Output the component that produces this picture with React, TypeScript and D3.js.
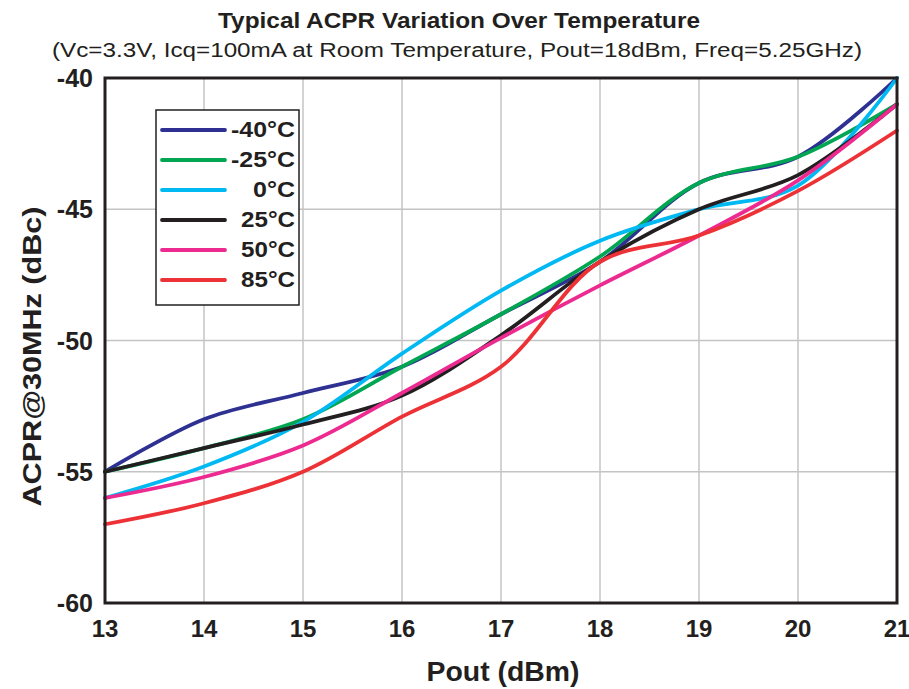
import React from "react";
import * as d3 from "d3";

const pout = [13, 14, 15, 16, 17, 18, 19, 20, 21];
const seriesNames = ["-40°C", "-25°C", "0°C", "25°C", "50°C", "85°C"];
const seriesColors = ["#2e3192", "#00a651", "#00b9f2", "#231f20", "#ec2a90", "#ed3237"];
const m40 = [-55, -53, -52, -51, -49, -47, -44, -43, -40];
const m25 = [-55, -54.1, -53, -51, -49, -46.8, -44, -43, -41];
const t0 = [-56, -54.8, -53.1, -50.5, -48.1, -46.2, -45, -44.1, -40];
const t25 = [-55, -54.1, -53.2, -52.1, -49.8, -47, -45, -43.7, -41];
const t50 = [-56, -55.2, -54, -52, -49.9, -47.9, -46, -43.9, -41];
const t85 = [-57, -56.2, -55, -52.9, -51, -47, -46, -44.3, -42];
const allSeries = [m40, m25, t0, t25, t50, t85];
const yTicks = [-40, -45, -50, -55, -60];

const W = 909;
const H = 689;
const margin = { top: 78, right: 12, bottom: 86, left: 105 };
const font = "'Liberation Sans', Arial, sans-serif";

export default function App() {
  const x = d3.scaleLinear()
    .domain([13, 21])
    .range([margin.left, W - margin.right]);
  const y = d3.scaleLinear()
    .domain([-60, -40])
    .range([H - margin.bottom, margin.top]);

  const line = d3.line<number>()
    .x((_, i) => x(pout[i]))
    .y(d => y(d))
    .curve(d3.curveCatmullRom.alpha(0.5));

  const legendX = 156;
  const legendY = 110;
  // label widths
  const legendWidths = [64, 64, 42, 54, 54, 54];

  return (
    <svg width={W} height={H} style={{ position: "absolute", left: 0, top: 0, background: "#fff" }}
      fontFamily={font}>
      <text x={459} y={28} textAnchor="middle" fontSize={22} fontWeight="bold" fill="#231f20"
        textLength={482} lengthAdjust="spacingAndGlyphs">
        Typical ACPR Variation Over Temperature
      </text>
      <text x={457} y={57} textAnchor="middle" fontSize={20} fill="#231f20"
        textLength={810} lengthAdjust="spacingAndGlyphs">
        (Vc=3.3V, Icq=100mA at Room Temperature, Pout=18dBm, Freq=5.25GHz)
      </text>

      {pout.map(v => (
        <line key={"gx" + v} x1={x(v)} x2={x(v)} y1={y(-40)} y2={y(-60)} stroke="#c4c4c4" strokeWidth={1.5} />
      ))}
      {yTicks.map(v => (
        <line key={"gy" + v} x1={x(13)} x2={x(21)} y1={y(v)} y2={y(v)} stroke="#c4c4c4" strokeWidth={1.5} />
      ))}

      {allSeries.map((s, i) => (
        <path key={"s" + i} d={line(s) || ""} fill="none" stroke={seriesColors[i]} strokeWidth={3.8}
          strokeLinecap="round" strokeLinejoin="round" />
      ))}

      <rect x={x(13)} y={y(-40)} width={x(21) - x(13)} height={y(-60) - y(-40)} fill="none"
        stroke="#231f20" strokeWidth={3} />

      {yTicks.map(v => (
        <text key={"ty" + v} x={x(13) - 12} y={y(v) + 9} textAnchor="end" fontSize={25} fontWeight="bold" fill="#231f20">
          {v}
        </text>
      ))}
      {pout.map(v => (
        <text key={"tx" + v} x={x(v)} y={y(-60) + 34} textAnchor="middle" fontSize={24} fontWeight="bold" fill="#231f20">
          {v}
        </text>
      ))}

      <text x={503} y={681} textAnchor="middle" fontSize={27} fontWeight="bold" fill="#231f20"
        textLength={153} lengthAdjust="spacingAndGlyphs">
        Pout (dBm)
      </text>
      <text transform={`translate(41,${(y(-40) + y(-60)) / 2 + 16}) rotate(-90)`} textAnchor="middle" fontSize={26}
        fontWeight="bold" fill="#231f20" textLength={300} lengthAdjust="spacingAndGlyphs">
        ACPR@30MHz (dBc)
      </text>

      <rect x={legendX} y={legendY} width={143} height={195} fill="#fff" stroke="#231f20" strokeWidth={1.5} />
      {seriesNames.map((n, i) => (
        <g key={"lg" + i}>
          <line x1={legendX + 6} x2={legendX + 69} y1={legendY + 20 + i * 30} y2={legendY + 20 + i * 30}
            stroke={seriesColors[i]} strokeWidth={3.8} strokeLinecap="round" />
          <text x={legendX + 139} y={legendY + 27 + i * 30} textAnchor="end" fontSize={22} fontWeight="bold"
            fill="#231f20" textLength={legendWidths[i]} lengthAdjust="spacingAndGlyphs">
            {n}
          </text>
        </g>
      ))}
    </svg>
  );
}
